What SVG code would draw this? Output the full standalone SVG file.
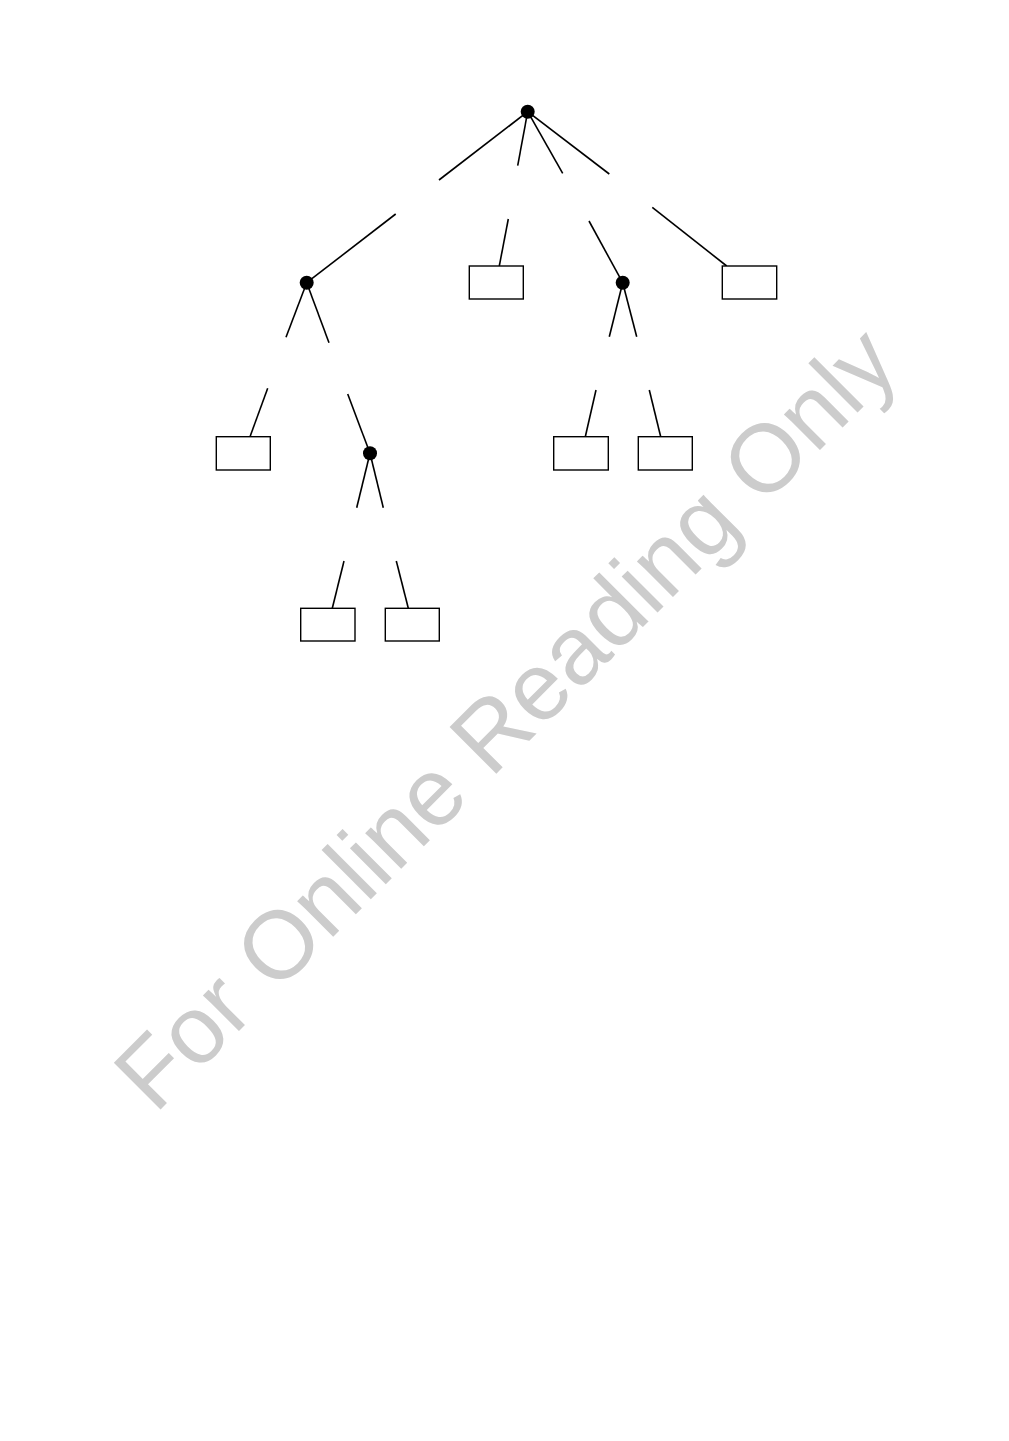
<svg xmlns="http://www.w3.org/2000/svg" width="1009" height="1441" viewBox="0 0 1009 1441">
<style>
.wm{font-family:"Liberation Sans",Arial,sans-serif;font-size:96px;fill:#cccccc}
.e{stroke:#000;stroke-width:1.6;fill:none}
.leaf{fill:#fff;stroke:#000;stroke-width:1.4}
.dot{fill:#000}
</style>
<rect width="1009" height="1441" fill="#fff"/>
<text class="wm" x="155" y="1115" transform="rotate(-45 155 1115)">For Online Reading Only</text>
<g id="connectors">
<line class="e" x1="527.7" y1="111.7" x2="439" y2="180"/>
<line class="e" x1="527.7" y1="111.7" x2="517.7" y2="165.7"/>
<line class="e" x1="527.7" y1="111.7" x2="562.7" y2="173.3"/>
<line class="e" x1="527.7" y1="111.7" x2="609.3" y2="174"/>
<line class="e" x1="306.7" y1="282.7" x2="395.7" y2="214"/>
<line class="e" x1="306.7" y1="282.7" x2="286" y2="337.3"/>
<line class="e" x1="306.7" y1="282.7" x2="329" y2="342.7"/>
<line class="e" x1="499.3" y1="266" x2="508.3" y2="219"/>
<line class="e" x1="622.7" y1="282.7" x2="589" y2="221"/>
<line class="e" x1="622.7" y1="282.7" x2="609.3" y2="336.7"/>
<line class="e" x1="622.7" y1="282.7" x2="636.7" y2="336.7"/>
<line class="e" x1="726.7" y1="266" x2="652.3" y2="207.3"/>
<line class="e" x1="250" y1="436.7" x2="267.7" y2="388.3"/>
<line class="e" x1="370" y1="453.3" x2="347.7" y2="394"/>
<line class="e" x1="370" y1="453.3" x2="356.7" y2="507.7"/>
<line class="e" x1="370" y1="453.3" x2="383.3" y2="507.7"/>
<line class="e" x1="585.3" y1="436.7" x2="596" y2="390"/>
<line class="e" x1="660.7" y1="436.7" x2="649.3" y2="390"/>
<line class="e" x1="332.3" y1="608.3" x2="344" y2="561"/>
<line class="e" x1="408.3" y1="608.3" x2="396.3" y2="561"/>
</g>
<g id="root"><circle class="dot" cx="527.7" cy="111.7" r="7"/></g>
<g id="n1"><circle class="dot" cx="306.7" cy="282.7" r="7"/></g>
<g id="n2"><rect class="leaf" x="469.3" y="266" width="54" height="33"/></g>
<g id="n3"><circle class="dot" cx="622.7" cy="282.7" r="7"/></g>
<g id="n4"><rect class="leaf" x="722.3" y="266" width="54.4" height="33"/></g>
<g id="n5"><rect class="leaf" x="216.3" y="436.7" width="54" height="33.3"/></g>
<g id="n6"><circle class="dot" cx="370" cy="453.3" r="7"/></g>
<g id="n7"><rect class="leaf" x="553.7" y="436.7" width="54.6" height="33.3"/></g>
<g id="n8"><rect class="leaf" x="638.3" y="436.7" width="54" height="33.3"/></g>
<g id="n9"><rect class="leaf" x="300.7" y="608.3" width="54.3" height="32.7"/></g>
<g id="n10"><rect class="leaf" x="385.3" y="608.3" width="54" height="32.7"/></g>
</svg>
